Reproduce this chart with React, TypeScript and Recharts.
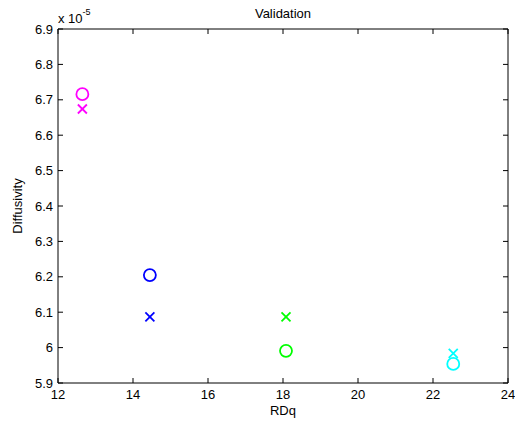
import React from 'react';
import { ScatterChart, Scatter, XAxis, YAxis, Label } from 'recharts';

const rdq = [12.65, 14.45, 18.08, 22.54];
const circleVals = [6.716, 6.205, 5.991, 5.954];
const crossVals = [6.674, 6.087, 6.087, 5.984];
const xTicks = [12, 14, 16, 18, 20, 22, 24];
const yTicks = [5.9, 6.0, 6.1, 6.2, 6.3, 6.4, 6.5, 6.6, 6.7, 6.8, 6.9];
const pointColors = ['#ff00ff', '#0000ff', '#00ff00', '#00ffff'];

const FONT = 'Liberation Sans, Arial, sans-serif';
const AX = '#000';

const CircleShape = (props: any) => (
  <circle cx={props.cx} cy={props.cy} r={6} fill="none" stroke={props.fill} strokeWidth={1.8} />
);
const CrossShape = (props: any) => {
  const { cx, cy, fill } = props;
  const s = 4.5;
  return (
    <g stroke={fill} strokeWidth={1.8}>
      <line x1={cx - s} y1={cy - s} x2={cx + s} y2={cy + s} />
      <line x1={cx - s} y1={cy + s} x2={cx + s} y2={cy - s} />
    </g>
  );
};

const fmtY = (v: number) => String(Number(v.toFixed(1)));
const blank = () => '';

export default function App() {
  return (
    <div style={{ position: 'absolute', left: 0, top: 0, fontFamily: FONT }}>
      <ScatterChart width={515} height={421} margin={{ top: 0, right: 0, bottom: 0, left: 0 }}>
        <XAxis
          xAxisId="b"
          type="number"
          dataKey="x"
          domain={[12, 24]}
          ticks={xTicks}
          orientation="bottom"
          height={38}
          tickSize={-5}
          tickMargin={12}
          stroke={AX}
          tick={{ fontSize: 13, fill: AX, fontFamily: FONT }}
          allowDataOverflow
        >
          <Label value="RDq" position="insideBottom" offset={6} style={{ fontSize: 13, fill: AX, fontFamily: FONT }} />
        </XAxis>
        <XAxis
          xAxisId="t"
          type="number"
          dataKey="x"
          domain={[12, 24]}
          ticks={xTicks}
          orientation="top"
          height={29}
          tickSize={-5}
          tickFormatter={blank}
          stroke={AX}
          allowDataOverflow
        >
          <Label value="Validation" position="insideTop" offset={9} style={{ fontSize: 13, fill: AX, fontFamily: FONT }} />
          <Label
            content={() => (
              <text x={58} y={23} fontSize={13} fill={AX} fontFamily={FONT}>
                x 10
                <tspan dy={-8} fontSize={9}>-5</tspan>
              </text>
            )}
          />
        </XAxis>
        <YAxis
          yAxisId="l"
          type="number"
          dataKey="y"
          domain={[5.9, 6.9]}
          ticks={yTicks}
          orientation="left"
          width={58}
          tickSize={-5}
          tickMargin={10}
          tickFormatter={fmtY}
          stroke={AX}
          tick={{ fontSize: 13, fill: AX, fontFamily: FONT }}
          allowDataOverflow
        >
          <Label
            value="Diffusivity"
            angle={-90}
            position="insideLeft"
            offset={17}
            style={{ fontSize: 13, fill: AX, fontFamily: FONT, textAnchor: 'middle' }}
          />
        </YAxis>
        <YAxis
          yAxisId="r"
          type="number"
          dataKey="y"
          domain={[5.9, 6.9]}
          ticks={yTicks}
          orientation="right"
          width={7}
          tickSize={-5}
          tickFormatter={blank}
          stroke={AX}
          allowDataOverflow
        />
        {rdq.map((x, i) => (
          <Scatter
            key={'c' + i}
            xAxisId="b"
            yAxisId="l"
            data={[{ x, y: circleVals[i] }]}
            fill={pointColors[i]}
            shape={CircleShape}
            isAnimationActive={false}
          />
        ))}
        {rdq.map((x, i) => (
          <Scatter
            key={'x' + i}
            xAxisId="b"
            yAxisId="l"
            data={[{ x, y: crossVals[i] }]}
            fill={pointColors[i]}
            shape={CrossShape}
            isAnimationActive={false}
          />
        ))}
      </ScatterChart>
    </div>
  );
}
